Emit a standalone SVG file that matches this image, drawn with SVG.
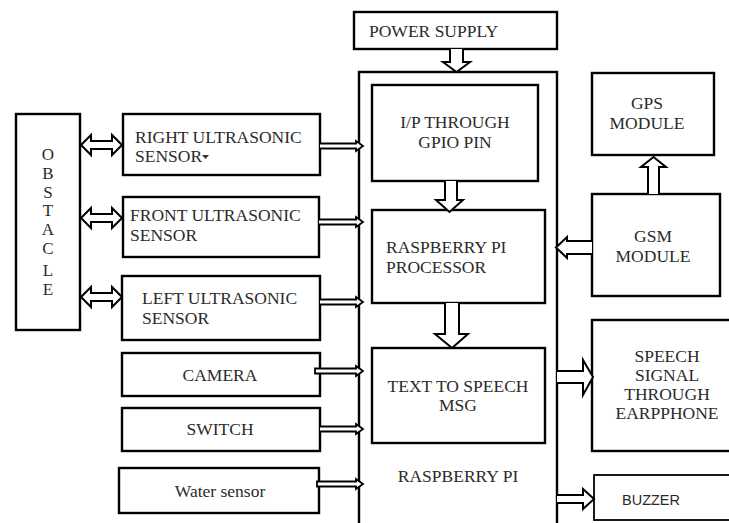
<svg xmlns="http://www.w3.org/2000/svg" width="729" height="523" viewBox="0 0 729 523">
<style>
.box{fill:#fff;stroke:#000;stroke-width:2.4}
.thin{fill:#fff;stroke:#000;stroke-width:1.8}
.t{font-family:"Liberation Serif","Times New Roman",serif;font-size:17.5px;fill:#2b2b2b}
.c{text-anchor:middle}
.ob{font-family:"Liberation Serif","Times New Roman",serif;font-size:17px;fill:#2b2b2b;text-anchor:middle}
.s{font-family:"Liberation Sans",Arial,sans-serif;font-size:14.5px;fill:#2b2b2b}
.ar{fill:#fff;stroke:#000;stroke-width:2;stroke-linejoin:miter}
.sa{fill:#fff;stroke:#000;stroke-width:1.8}
</style>
<rect width="729" height="523" fill="#fff"/>

<g id="obstacle">
<rect class="box" x="16" y="114" width="64" height="216"/>
<text class="ob" x="48" y="160">O</text>
<text class="ob" x="48" y="179">B</text>
<text class="ob" x="48" y="198">S</text>
<text class="ob" x="48" y="216">T</text>
<text class="ob" x="48" y="235">A</text>
<text class="ob" x="48" y="254">C</text>
<text class="ob" x="48" y="276">L</text>
<text class="ob" x="48" y="295">E</text>
</g>

<g id="right-sensor">
<rect class="box" x="123" y="114" width="197" height="61"/>
<text class="t" x="135" y="143">RIGHT ULTRASONIC</text>
<text class="t" x="135" y="162">SENSOR</text>
<polygon points="202,155 209,155 205.5,159" fill="#333"/>
</g>

<g id="front-sensor">
<rect class="box" x="123" y="197" width="196" height="60"/>
<text class="t" x="130" y="221">FRONT ULTRASONIC</text>
<text class="t" x="130" y="241">SENSOR</text>
</g>

<g id="left-sensor">
<rect class="box" x="122" y="276" width="198" height="64"/>
<text class="t" x="142" y="304">LEFT ULTRASONIC</text>
<text class="t" x="142" y="324">SENSOR</text>
</g>

<g id="camera">
<rect class="box" x="122" y="353" width="198" height="43"/>
<text class="t c" x="220" y="381">CAMERA</text>
</g>

<g id="switch">
<rect class="box" x="122" y="408" width="198" height="43"/>
<text class="t c" x="220" y="435">SWITCH</text>
</g>

<g id="water-sensor">
<rect class="box" x="119" y="468" width="200" height="45"/>
<text class="t c" x="220" y="497">Water sensor</text>
</g>

<g id="power-supply">
<rect class="box" x="354" y="12" width="203" height="37"/>
<text class="t" x="369" y="37">POWER SUPPLY</text>
</g>

<g id="raspberry-pi">
<rect class="box" x="359" y="72" width="198" height="470"/>
<text class="t c" x="458" y="482">RASPBERRY PI</text>
</g>

<g id="ip-gpio">
<rect class="box" x="372" y="85" width="166" height="96"/>
<text class="t c" x="455" y="128">I/P THROUGH</text>
<text class="t c" x="455" y="148">GPIO PIN</text>
</g>

<g id="processor">
<rect class="box" x="372" y="210" width="173" height="93"/>
<text class="t" x="386" y="253">RASPBERRY PI</text>
<text class="t" x="386" y="273">PROCESSOR</text>
</g>

<g id="tts">
<rect class="box" x="372" y="348" width="173" height="95"/>
<text class="t c" x="458" y="392">TEXT TO SPEECH</text>
<text class="t c" x="458" y="411">MSG</text>
</g>

<g id="gps">
<rect class="box" x="592" y="73" width="122" height="82"/>
<text class="t c" x="647" y="109">GPS</text>
<text class="t c" x="647" y="129">MODULE</text>
</g>

<g id="gsm">
<rect class="box" x="592" y="194" width="128" height="102"/>
<text class="t c" x="653" y="242">GSM</text>
<text class="t c" x="653" y="262">MODULE</text>
</g>

<g id="speech">
<rect class="box" x="592" y="320" width="150" height="131"/>
<text class="t c" x="667" y="362">SPEECH</text>
<text class="t c" x="667" y="381">SIGNAL</text>
<text class="t c" x="667" y="400">THROUGH</text>
<text class="t c" x="667" y="419">EARPPHONE</text>
</g>

<g id="buzzer">
<rect class="thin" x="594" y="475" width="150" height="45"/>
<text class="s" x="622" y="505">BUZZER</text>
</g>

<g id="connectors">
<path class="ar" d="M81,145 L91,135 L91,141 L112,141 L112,135 L122,145 L112,155 L112,149 L91,149 L91,155 Z"/>
<path class="ar" d="M81,218 L91,208 L91,214 L112,214 L112,208 L122,218 L112,228 L112,222 L91,222 L91,228 Z"/>
<path class="ar" d="M81,297 L91,287 L91,293 L112,293 L112,287 L122,297 L112,307 L112,301 L91,301 L91,307 Z"/>
<path class="sa" d="M320,143.5 L356,143.5 L356,141 L363,146 L356,151 L356,148.5 L320,148.5"/>
<path class="sa" d="M319,219.5 L356,219.5 L356,217 L363,222 L356,227 L356,224.5 L319,224.5"/>
<path class="sa" d="M320,299.5 L356,299.5 L356,297 L363,302 L356,307 L356,304.5 L320,304.5"/>
<path class="sa" d="M315,368.5 L356,368.5 L356,366 L363,371 L356,376 L356,373.5 L315,373.5 Z"/>
<path class="sa" d="M320,426.5 L356,426.5 L356,424 L363,429 L356,434 L356,431.5 L320,431.5"/>
<path class="sa" d="M317,481.5 L356,481.5 L356,479 L363,484 L356,489 L356,486.5 L317,486.5 Z"/>
<path class="ar" d="M450,49 L450,62 L443,62 L456.5,72 L470,62 L463,62 L463,49"/>
<path class="ar" d="M445,181 L445,200 L436,200 L449.5,212 L463,200 L457,200 L457,181"/>
<path class="ar" d="M445,303 L445,334 L435,334 L452,348 L468,334 L459,334 L459,303"/>
<path class="ar" d="M648,194 L648,167 L641,167 L653.5,157 L666,167 L659,167 L659,194"/>
<path class="ar" d="M592,241 L567,241 L567,237 L556,247.5 L567,258 L567,254 L592,254"/>
<path class="ar" d="M557,371 L583,371 L583,360 L593,377 L583,395 L583,383 L557,383"/>
<path class="ar" d="M557,495 L583,495 L583,489 L594,499 L583,509 L583,503 L557,503"/>
</g>
</svg>
